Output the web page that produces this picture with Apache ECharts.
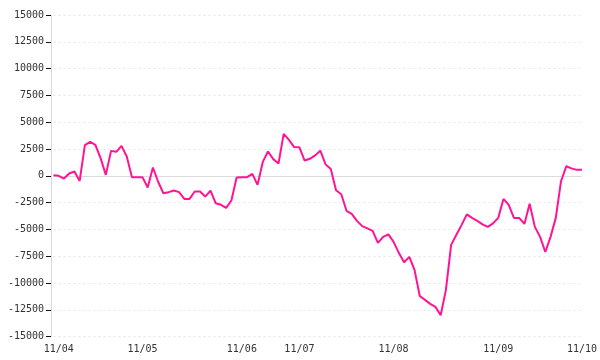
<!DOCTYPE html>
<html>
<head>
<meta charset="utf-8">
<script src="https://cdn.jsdelivr.net/npm/echarts@6/dist/echarts.min.js"></script>
<style>html,body{margin:0;padding:0;background:#fff}#c{width:600px;height:360px}</style>
</head>
<body>
<div id="c"></div>
<script>
var dayLabels = ['11/04', '11/05', '11/06', '11/07', '11/08', '11/09', '11/10'];
var dayStart = [1, 17, 36, 47, 65, 85, 101];
var firstLabel = '11/03';
var values = [
  50, 0, -250, 220, 400, -470, 2860, 3170, 2890, 1650,
  90, 2330, 2240, 2800, 1800, -120, -120, -120, -1090, 780,
  -550, -1620, -1520, -1370, -1520, -2150, -2150, -1460, -1460, -1930,
  -1370, -2550, -2700, -2990, -2300, -150, -120, -120, 190, -840,
  1300, 2270, 1560, 1150, 3920, 3350, 2680, 2660, 1430, 1590,
  1910, 2350, 1070, 630, -1350, -1720, -3260, -3540, -4200, -4690,
  -4900, -5130, -6250, -5690, -5460, -6160, -7180, -8050, -7560, -8770,
  -11200, -11570, -11940, -12220, -13000, -10630, -6440, -5500, -4570, -3590,
  -3920, -4200, -4520, -4760, -4430, -3920, -2150, -2700, -3920, -3920,
  -4480, -2600, -4760, -5690, -7100, -5690, -3920, -500, 890, 700,
  560, 560
];

var categories = values.map(function (v, i) {
  var lab = firstLabel;
  for (var k = 0; k < dayStart.length; k++) { if (i >= dayStart[k]) lab = dayLabels[k]; }
  return lab;
});

var chart = echarts.init(document.getElementById('c'), null, {renderer: 'canvas'});
var font = 'DejaVu Sans Mono';
chart.setOption({
  animation: false,
  grid: {left: 53.5, right: 16.25, top: 15, bottom: 23.3, containLabel: false},
  xAxis: {
    type: 'category',
    data: categories,
    boundaryGap: false,
    axisLine: {show: false},
    axisTick: {show: false},
    splitLine: {show: false},
    axisLabel: {
      interval: function (idx) { return dayStart.indexOf(idx) >= 0; },
      color: '#333', fontFamily: font, fontSize: 10, margin: 8
    }
  },
  yAxis: {
    type: 'value',
    min: -15000, max: 15000, interval: 2500,
    offset: 2.5,
    axisLine: {show: true, lineStyle: {color: '#d8d8d8', width: 1}},
    axisTick: {show: true, inside: false, length: 5, lineStyle: {color: '#111', width: 1}},
    axisLabel: {
      color: '#333', fontFamily: font, fontSize: 10, margin: 7,
      formatter: function (v) { return String(v); }
    },
    splitLine: {show: true, lineStyle: {color: '#e6e6e6', type: [2, 3], width: 1}}
  },
  series: [{
    type: 'line',
    data: values,
    showSymbol: false,
    symbol: 'none',
    lineStyle: {color: '#ff1493', width: 2},
    itemStyle: {color: '#ff1493'},
    z: 3,
    markLine: {
      silent: true,
      symbol: 'none',
      label: {show: false},
      lineStyle: {color: '#dcdcdc', type: 'solid', width: 1},
      data: [{yAxis: 0}],
      z: 1
    }
  }]
});
</script>
</body>
</html>
